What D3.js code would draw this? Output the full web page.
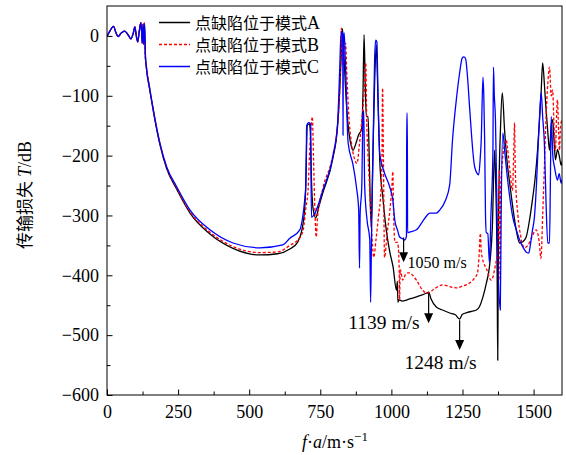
<!DOCTYPE html>
<html>
<head>
<meta charset="utf-8">
<title>传输损失</title>
<script src="https://d3js.org/d3.v7.min.js"></script>
<style>
  body { margin: 0; background: #fff; }
  svg { display: block; }
  .axis text { font-family: "Liberation Serif", serif; font-size: 18px; fill: #000; }
  .axis line { stroke: #000; }
  .serif { font-family: "Liberation Serif", serif; }
  .cjk { font-family: "Noto Sans CJK SC", sans-serif; }
</style>
</head>
<body>
<svg width="566" height="455"></svg>
<script>
// low band wiggles, same for all three cases
const lowBand = [[0,-1],[10,8],[23,16],[31,6],[39,-1],[50,5],[62,8],[74,2],[84,-5],[92,4],[98,15],[103,0],[108,-10],[113,6],[119,22],[122,5],[124,-12],[127,20],[129,-14]];

// defect in mode A (black)
const modeA = lowBand.concat([[132,20],[135,-35],[139,-55],[151,-92],[163,-126],[186,-181],[210,-222],[245,-256],[292,-296],[362,-331],[443,-355],[537,-366],[600,-364],[643,-356],[670,-345],[685,-325],[694,-295],[699,-250],[702,-180],[704,-150],[712,-147],[715,-160],[719,-240],[725,-290],[734,-304],[745,-285],[759,-262],[794,-205],[811,-150],[818,-95],[824,-30],[828,12],[832,-20],[838,-80],[846,-140],[855,-175],[865,-191],[875,-180],[885,-165],[895,-157],[900,-100],[904,2],[908,-80],[912,-135],[918,-135],[922,-200],[929,-320],[935,-200],[941,-80],[947,-15],[951,-70],[959,-207],[970,-270],[982,-324],[994,-360],[1006,-386],[1018,-425],[1021,-410],[1023,-445],[1026,-441],[1038,-443],[1055,-441],[1075,-438],[1100,-434],[1123,-430],[1131,-428],[1140,-440],[1158,-453],[1180,-458],[1205,-463],[1225,-466],[1240,-473],[1250,-465],[1268,-462],[1285,-460],[1299,-458],[1310,-452],[1322,-436],[1334,-413],[1345,-385],[1355,-320],[1363,-191],[1366,-230],[1372,-400],[1374,-542],[1377,-300],[1384,-150],[1390,-95],[1398,-157],[1408,-215],[1416,-246],[1428,-290],[1439,-324],[1451,-346],[1462,-344],[1474,-336],[1485,-310],[1496,-274],[1505,-240],[1514,-191],[1521,-140],[1527,-90],[1532,-45],[1538,-80],[1544,-124],[1550,-160],[1556,-191],[1562,-150],[1567,-140],[1572,-175],[1577,-207],[1584,-190],[1591,-202],[1597,-216],[1600,-210]]);

// defect in mode B (red dashed)
const modeB = lowBand.concat([[131,22],[134,-33],[139,-52],[151,-90],[163,-124],[186,-180],[210,-220],[245,-254],[292,-294],[362,-328],[443,-352],[537,-362],[600,-361],[643,-350],[678,-337],[690,-324],[700,-285],[707,-258],[712,-200],[718,-150],[722,-135],[726,-200],[731,-290],[736,-336],[740,-305],[759,-255],[794,-200],[811,-148],[818,-95],[822,-30],[824,13],[827,-30],[831,-50],[835,-20],[839,-12],[843,-60],[850,-130],[860,-180],[870,-205],[879,-213],[888,-180],[898,-130],[905,-90],[910,-45],[913,-135],[918,-200],[924,-260],[930,-320],[938,-370],[946,-340],[955,-300],[963,-260],[967,-200],[969,-87],[972,-200],[976,-370],[985,-330],[995,-290],[1002,-250],[1005,-227],[1008,-300],[1013,-345],[1022,-345],[1027,-380],[1029,-441],[1031,-390],[1040,-408],[1050,-398],[1057,-396],[1065,-396],[1075,-400],[1088,-408],[1110,-425],[1127,-430],[1150,-423],[1180,-416],[1205,-419],[1228,-421],[1250,-418],[1275,-413],[1295,-403],[1303,-396],[1308,-370],[1313,-330],[1316,-360],[1320,-371],[1335,-390],[1351,-408],[1365,-385],[1373,-358],[1378,-300],[1380,-224],[1382,-408],[1385,-250],[1395,-190],[1404,-174],[1408,-186],[1418,-230],[1426,-258],[1430,-200],[1433,-145],[1436,-230],[1445,-300],[1455,-335],[1468,-354],[1480,-350],[1495,-335],[1509,-324],[1520,-345],[1526,-372],[1532,-300],[1538,-220],[1544,-135],[1550,-80],[1556,-52],[1562,-100],[1567,-90],[1572,-150],[1577,-191],[1581,-130],[1584,-107],[1588,-160],[1591,-191],[1595,-150],[1600,-140]]);

// defect in mode C (blue)
const modeC = lowBand.concat([[132,20],[135,-30],[139,-55],[151,-90],[163,-124],[186,-179],[210,-219],[245,-252],[292,-291],[362,-324],[443,-346],[537,-354],[618,-349],[643,-338],[678,-324],[688,-303],[695,-275],[699,-250],[701,-190],[702,-150],[709,-145],[716,-147],[717,-200],[719,-303],[731,-296],[759,-258],[794,-202],[811,-145],[818,-60],[822,-5],[826,8],[829,-5],[830,-166],[831,-5],[834,5],[838,-40],[848,-179],[865,-215],[877,-252],[885,-290],[888,-388],[890,-300],[896,-250],[900,-135],[903,-125],[906,-250],[915,-310],[924,-340],[927,-445],[930,-340],[936,-180],[941,-40],[945,-7],[949,-10],[953,-100],[959,-196],[975,-228],[994,-252],[1005,-274],[1012,-308],[1022,-325],[1029,-336],[1040,-339],[1047,-341],[1053,-335],[1054,-129],[1056,-129],[1057,-329],[1064,-328],[1088,-324],[1110,-310],[1125,-300],[1135,-296],[1158,-296],[1170,-291],[1190,-275],[1205,-249],[1215,-174],[1230,-100],[1240,-62],[1249,-37],[1255,-35],[1261,-38],[1268,-70],[1275,-119],[1293,-219],[1307,-232],[1313,-200],[1316,-174],[1322,-69],[1325,-100],[1328,-174],[1331,-300],[1334,-329],[1339,-330],[1345,-380],[1350,-300],[1357,-196],[1359,-52],[1362,-100],[1366,-140],[1370,-250],[1374,-358],[1383,-458],[1386,-300],[1392,-162],[1398,-190],[1404,-219],[1415,-265],[1427,-303],[1440,-325],[1451,-341],[1465,-355],[1476,-362],[1483,-363],[1490,-345],[1496,-325],[1503,-303],[1510,-250],[1515,-196],[1521,-135],[1527,-95],[1532,-135],[1538,-179],[1544,-280],[1550,-346],[1556,-346],[1559,-250],[1562,-135],[1568,-202],[1574,-220],[1584,-241],[1590,-230],[1597,-246],[1600,-240]]);

const seriesNames = ["点缺陷位于模式", "点缺陷位于模式", "点缺陷位于模式"];
const seriesTags = ["A", "B", "C"];
const xTicks = [0, 250, 500, 750, 1000, 1250, 1500];
const yTicks = [0, -100, -200, -300, -400, -500, -600];

// annotated attenuation peaks
const markFreq = [1043, 1131, 1240];
const markTop = [-337, -430, -475];
const markTip = [-378, -480, -525];
const markText = ["1050 m/s", "1139 m/s", "1248 m/s"];

const svg = d3.select("svg");
const L = 107, T = 6, W = 455, H = 389;
const fmt = d3.format("d");

const x = d3.scaleLinear().domain([0, 1600]).range([L, L + W]);
const y = d3.scaleLinear().domain([-600, 50]).range([T + H, T]);

svg.append("clipPath").attr("id", "plot")
  .append("rect").attr("x", L).attr("y", T).attr("width", W).attr("height", H);

// minor ticks
svg.append("g").attr("class", "axis")
  .attr("transform", `translate(0,${T + H})`)
  .call(d3.axisBottom(x).tickValues(d3.range(125, 1600, 250)).tickSize(-3.5).tickFormat(""))
  .call(g => g.select(".domain").remove());
svg.append("g").attr("class", "axis")
  .attr("transform", `translate(${L},0)`)
  .call(d3.axisLeft(y).tickValues(d3.range(-550, 50, 100)).tickSize(-3.5).tickFormat(""))
  .call(g => g.select(".domain").remove());

// major ticks
svg.append("g").attr("class", "axis")
  .attr("transform", `translate(0,${T + H})`)
  .call(d3.axisBottom(x).tickValues(xTicks).tickSize(-5.5).tickPadding(10).tickFormat(fmt))
  .call(g => g.select(".domain").remove());
svg.append("g").attr("class", "axis")
  .attr("transform", `translate(${L},0)`)
  .call(d3.axisLeft(y).tickValues(yTicks).tickSize(-5.5).tickPadding(8).tickFormat(fmt))
  .call(g => g.select(".domain").remove());

const line = d3.line().curve(d3.curveMonotoneX).x(d => x(d[0])).y(d => y(d[1]));
const styles = [
  { color: "#000000", dash: null },
  { color: "#ff0000", dash: "3,2" },
  { color: "#0000ff", dash: null }
];
const plot = svg.append("g").attr("clip-path", "url(#plot)");
[modeA, modeB, modeC].forEach((s, i) => {
  plot.append("path").datum(s)
    .attr("d", line)
    .attr("fill", "none")
    .attr("stroke", styles[i].color)
    .attr("stroke-width", 1.3)
    .attr("stroke-dasharray", styles[i].dash)
    .attr("stroke-linejoin", "round");
});

svg.append("rect").attr("x", L).attr("y", T).attr("width", W).attr("height", H)
  .attr("fill", "none").attr("stroke", "#000").attr("stroke-width", 1);

// arrows
const labelPos = [
  { dx: 4, dy: 6, anchor: "start", size: 16 },
  { dx: -9, dy: 6, anchor: "end", size: 19.5 },
  { dx: -19, dy: 19, anchor: "middle", size: 19.5 }
];
markFreq.forEach((f, i) => {
  const px = x(f), y0 = y(markTop[i]), y1 = y(markTip[i]);
  svg.append("line").attr("x1", px).attr("x2", px).attr("y1", y0).attr("y2", y1 - 8)
    .attr("stroke", "#000").attr("stroke-width", 1.2);
  svg.append("path")
    .attr("d", `M${px - 4.5},${y1 - 10}L${px + 4.5},${y1 - 10}L${px},${y1}Z`)
    .attr("fill", "#000");
  svg.append("text").attr("class", "serif")
    .attr("x", px + labelPos[i].dx).attr("y", y1 + labelPos[i].dy)
    .attr("text-anchor", labelPos[i].anchor)
    .attr("font-size", labelPos[i].size)
    .text(markText[i]);
});

// legend
const leg = svg.append("g");
seriesNames.forEach((n, i) => {
  const ly = 22.5 + i * 22;
  leg.append("line").attr("x1", 159).attr("x2", 190).attr("y1", ly).attr("y2", ly)
    .attr("stroke", styles[i].color).attr("stroke-width", 1.5)
    .attr("stroke-dasharray", styles[i].dash);
  const t = leg.append("text").attr("x", 195).attr("y", ly + 6).attr("font-size", 16);
  t.append("tspan").attr("class", "cjk").text(n);
  t.append("tspan").attr("class", "serif").attr("font-size", 18).text(seriesTags[i]);
});

// axis titles
const xt = svg.append("text").attr("class", "serif").attr("x", 335).attr("y", 448)
  .attr("text-anchor", "middle").attr("font-size", 18);
xt.append("tspan").attr("font-style", "italic").text("f");
xt.append("tspan").text("·");
xt.append("tspan").attr("font-style", "italic").text("a");
xt.append("tspan").text("/m·s");
xt.append("tspan").attr("font-size", 13).attr("dy", -7).text("−1");

const yt = svg.append("text").attr("transform", "translate(31,195) rotate(-90)")
  .attr("text-anchor", "middle").attr("font-size", 17);
yt.append("tspan").attr("class", "cjk").text("传输损失 ");
yt.append("tspan").attr("class", "serif").attr("font-style", "italic").attr("font-size", 18).text("T");
yt.append("tspan").attr("class", "serif").attr("font-size", 18).text("/dB");
</script>
</body>
</html>
